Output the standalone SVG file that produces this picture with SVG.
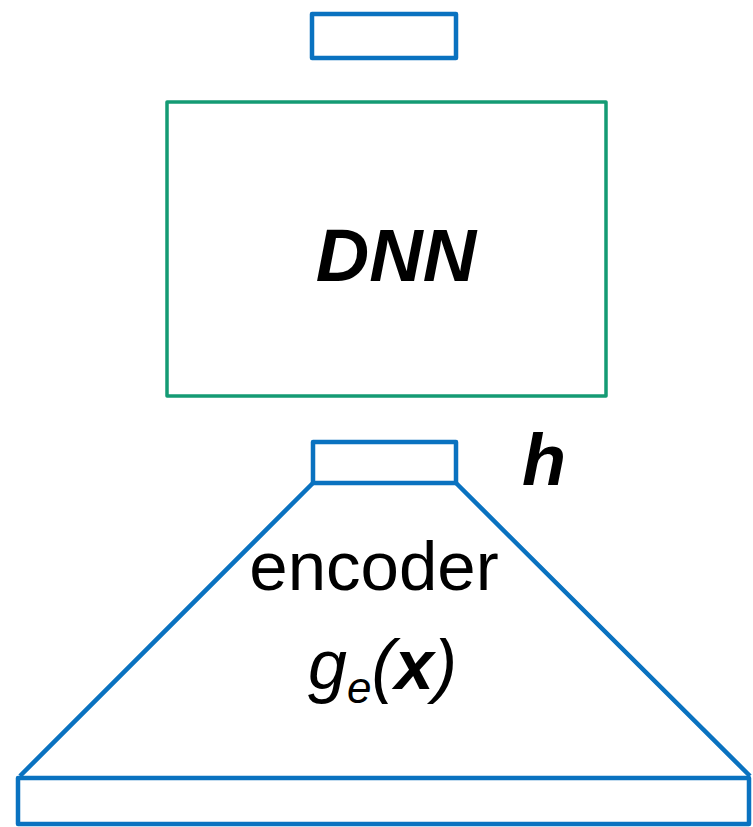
<svg xmlns="http://www.w3.org/2000/svg" width="753" height="827" viewBox="0 0 753 827">
<style>
.blue{fill:none;stroke:#0A72C0;stroke-width:4.5;stroke-linejoin:round}
.green{fill:none;stroke:#149B74;stroke-width:3.5;stroke-linejoin:round}
.t{font-family:"Liberation Sans",Arial,sans-serif;fill:#000}
</style>
<rect width="753" height="827" fill="#fff"/>
<g id="output">
<rect class="blue" x="312" y="14" width="144" height="44"/>
</g>
<g id="dnn">
<rect class="green" x="167" y="102" width="439" height="294"/>
<text class="t" x="396" y="281" font-size="74" font-weight="bold" font-style="italic" text-anchor="middle">DNN</text>
</g>
<g id="h">
<rect class="blue" x="313" y="442" width="143" height="41"/>
<text class="t" x="522" y="485" font-size="72" font-weight="bold" font-style="italic">h</text>
</g>
<g id="encoder">
<path class="blue" d="M313,483 L20,776 M456,483 L750,776"/>
<text class="t" x="374" y="590" font-size="69" text-anchor="middle">encoder</text>
<text class="t" x="308" y="689" font-size="70" font-style="italic">g<tspan font-size="44" dy="14">e</tspan><tspan dy="-14">(</tspan><tspan font-weight="bold">x</tspan>)</text>
</g>
<g id="input">
<rect class="blue" x="18" y="778" width="731" height="46"/>
</g>
<g id="connectors"></g>
</svg>
